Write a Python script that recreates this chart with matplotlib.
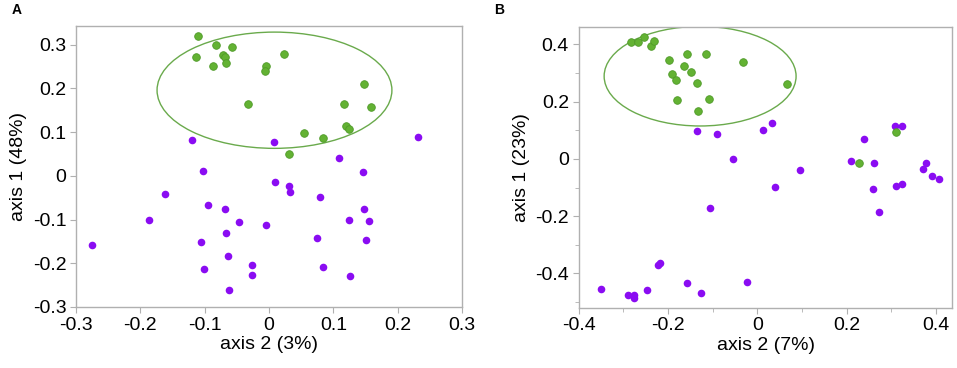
import matplotlib.pyplot as plt
from matplotlib.patches import Ellipse
from matplotlib.ticker import MultipleLocator

plt.rcParams['font.family'] = ['Liberation Sans', 'DejaVu Sans']

# panel A
a_green_x = [-0.110, -0.113, -0.083, -0.057, -0.071, -0.069, -0.067, -0.087, -0.033, 0.024,
             -0.005, -0.006, 0.148, 0.117, 0.158, 0.119, 0.124, 0.055, 0.084, 0.031]
a_green_y = [0.320, 0.272, 0.300, 0.296, 0.277, 0.272, 0.259, 0.252, 0.165, 0.280,
             0.252, 0.240, 0.211, 0.165, 0.157, 0.114, 0.107, 0.098, 0.086, 0.050]
a_purple_x = [-0.120, -0.102, 0.008, 0.232, 0.109, 0.146, -0.161, -0.186, -0.275, -0.095,
              -0.068, -0.047, -0.067, -0.105, -0.064, -0.101, -0.062, 0.009, 0.031, 0.033,
              0.080, -0.005, -0.026, -0.026, 0.084, 0.074, 0.124, 0.148, 0.155, 0.151, 0.126]
a_purple_y = [0.082, 0.011, 0.078, 0.090, 0.042, 0.010, -0.041, -0.101, -0.159, -0.067,
              -0.075, -0.106, -0.131, -0.151, -0.184, -0.214, -0.262, -0.014, -0.024, -0.037,
              -0.048, -0.112, -0.203, -0.226, -0.208, -0.142, -0.100, -0.076, -0.104, -0.147, -0.228]
a_ellipse = (0.0085, 0.196, 0.365, 0.266)

# panel B
b_green_x = [-0.282, -0.267, -0.254, -0.238, -0.231, -0.198, -0.157, -0.115, -0.192, -0.163,
             -0.149, -0.181, -0.134, -0.179, -0.109, -0.132, -0.032, 0.067, 0.310, 0.228]
b_green_y = [0.408, 0.407, 0.425, 0.396, 0.413, 0.345, 0.368, 0.368, 0.298, 0.324,
             0.303, 0.275, 0.265, 0.205, 0.209, 0.168, 0.338, 0.261, 0.095, -0.016]
b_purple_x = [-0.134, -0.091, 0.013, 0.032, -0.054, 0.095, 0.211, 0.261, 0.240, 0.308,
              0.325, 0.377, 0.372, 0.391, 0.407, 0.040, -0.106, 0.259, 0.311, 0.325,
              0.273, -0.023, -0.127, -0.349, -0.289, -0.276, -0.276, -0.247, -0.222, -0.217, -0.157]
b_purple_y = [0.098, 0.086, 0.102, 0.125, 0.001, -0.040, -0.007, -0.016, 0.071, 0.114,
              0.114, -0.016, -0.036, -0.061, -0.070, -0.097, -0.172, -0.104, -0.094, -0.089,
              -0.184, -0.430, -0.470, -0.453, -0.477, -0.477, -0.486, -0.459, -0.372, -0.363, -0.432]
b_ellipse = (-0.128, 0.289, 0.430, 0.348)

GREEN = '#63b233'
GREEN_EDGE = '#4f9a28'
PURPLE = '#8a0cf2'
SPINE = '#b0b0b0'


def style_axes(ax):
    for s in ax.spines.values():
        s.set_color(SPINE)
        s.set_linewidth(1.0)
    ax.tick_params(which='both', direction='out', color=SPINE, labelsize=14, pad=3)
    ax.tick_params(which='major', length=4)
    ax.tick_params(which='minor', length=3)


def draw(ax, gx, gy, px, py, ell):
    ax.scatter(px, py, s=30, color=PURPLE, linewidths=0, zorder=3)
    ax.scatter(gx, gy, s=30, color=GREEN, edgecolors=GREEN_EDGE, linewidths=0.6, zorder=3)
    cx, cy, w, h = ell
    ax.add_patch(Ellipse((cx, cy), w, h, fill=False, edgecolor='#6aaa4c', linewidth=1.0, zorder=2))
    style_axes(ax)


fig = plt.figure(figsize=(9.57, 3.68), dpi=100)

ax1 = fig.add_axes([0.0794, 0.1658, 0.4034, 0.7636])
draw(ax1, a_green_x, a_green_y, a_purple_x, a_purple_y, a_ellipse)
ax1.set_xlim(-0.3, 0.3)
ax1.set_ylim(-0.3, 0.343)
ax1.xaxis.set_major_locator(MultipleLocator(0.1))
ax1.yaxis.set_major_locator(MultipleLocator(0.1))
ax1.set_xticks([-0.3, -0.2, -0.1, 0, 0.1, 0.2, 0.3])
ax1.set_xticklabels(['-0.3', '-0.2', '-0.1', '0', '0.1', '0.2', '0.3'])
ax1.set_yticks([-0.3, -0.2, -0.1, 0, 0.1, 0.2, 0.3])
ax1.set_yticklabels(['-0.3', '-0.2', '-0.1', '0', '0.1', '0.2', '0.3'])
ax1.set_xlabel('axis 2 (3%)', fontsize=14, labelpad=2)
ax1.set_ylabel('axis 1 (48%)', fontsize=14, labelpad=4)

ax2 = fig.add_axes([0.6047, 0.1639, 0.3904, 0.7620])
draw(ax2, b_green_x, b_green_y, b_purple_x, b_purple_y, b_ellipse)
ax2.set_xlim(-0.4, 0.437)
ax2.set_ylim(-0.52, 0.46)
ax2.set_xticks([-0.4, -0.2, 0, 0.2, 0.4])
ax2.set_xticklabels(['-0.4', '-0.2', '0', '0.2', '0.4'])
ax2.set_yticks([-0.4, -0.2, 0, 0.2, 0.4])
ax2.set_yticklabels(['-0.4', '-0.2', '0', '0.2', '0.4'])
ax2.xaxis.set_minor_locator(MultipleLocator(0.1))
ax2.yaxis.set_minor_locator(MultipleLocator(0.1))
ax2.set_xlabel('axis 2 (7%)', fontsize=14, labelpad=2)
ax2.set_ylabel('axis 1 (23%)', fontsize=14, labelpad=4)

fig.text(0.017, 0.972, 'A', fontsize=10, fontweight='bold', va='center', ha='center')
fig.text(0.522, 0.972, 'B', fontsize=10, fontweight='bold', va='center', ha='center')

fig.savefig('out.png', dpi=100)
